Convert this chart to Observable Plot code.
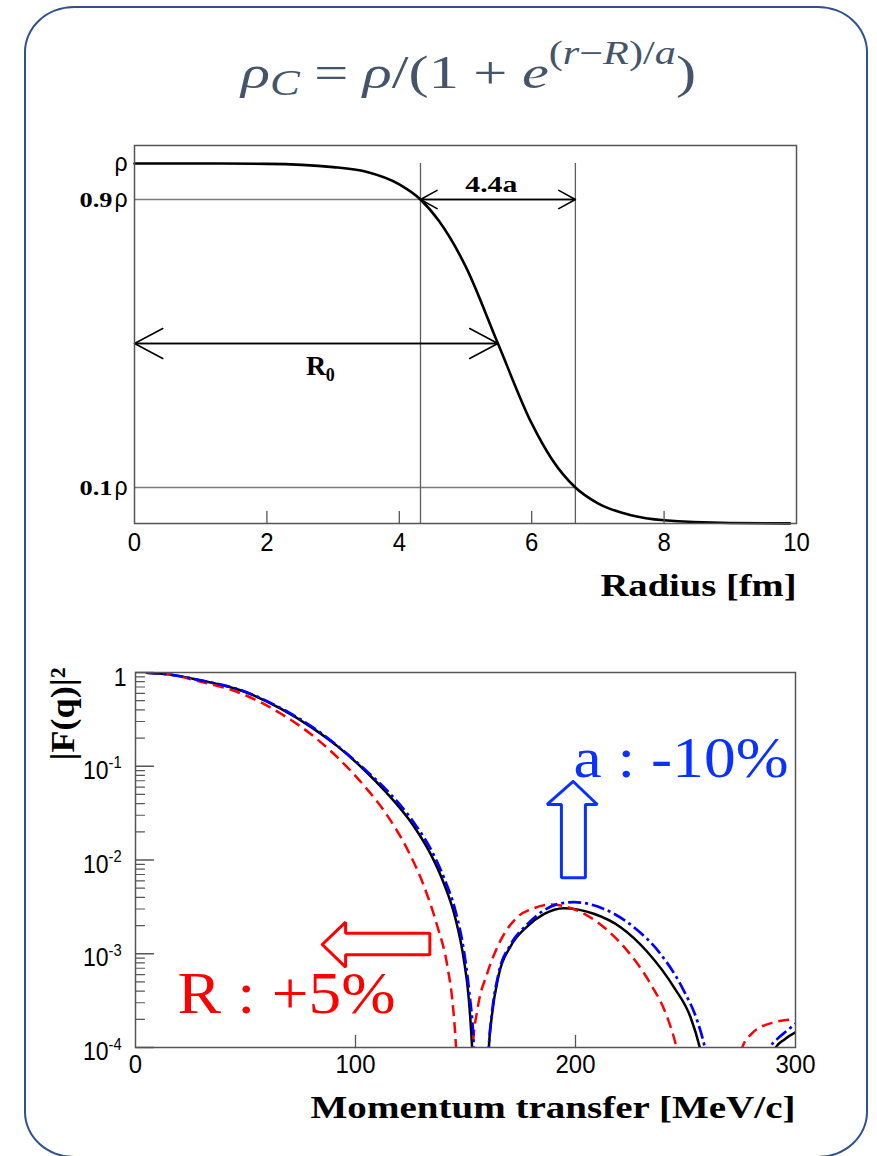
<!DOCTYPE html>
<html>
<head>
<meta charset="utf-8">
<script src="https://cdn.jsdelivr.net/npm/d3@7"></script>
<script src="https://cdn.jsdelivr.net/npm/@observablehq/plot@0.6"></script>
<style>
  html, body { margin: 0; padding: 0; background: #fff; }
  #page { position: relative; width: 877px; height: 1156px; overflow: hidden; background: #fff; }
  #card { position: absolute; left: 24px; top: 6px; width: 844px; height: 1152px; box-sizing: border-box;
          border: 2px solid #2f528f; border-radius: 50px / 46px; }
  #title { position: absolute; left: 241px; top: 20px; white-space: nowrap; color: #44546a;
           font-family: "Liberation Serif", "Times New Roman", serif; font-size: 47px; line-height: 1;
           transform-origin: 0 0; }
  #title i { font-style: italic; }
  #title .sup { position: relative; top: -0.73em; font-size: 0.7em; }
  #title .sub { position: relative; top: 0.2em; font-size: 0.74em; }
  #title .op { margin: 0 0.24em; }
  #title .bl { display: inline-block; width: 0; height: 0; }
  .panel { position: absolute; left: 0; }
  #topPanel { top: 130px; }
  #bottomPanel { top: 640px; }
</style>
</head>
<body>
<div id="page">
  <div id="card"></div>
  <div id="title"><i>ρ</i><span class="sub"><i>C</i></span><span class="op">=</span><i>ρ</i>/(1<span class="op">+</span><i>e</i><span class="sup">(<i>r</i>−<i>R</i>)/<i>a</i></span>)<span class="bl" id="bl"></span></div>
  <div id="topPanel" class="panel"></div>
  <div id="bottomPanel" class="panel"></div>
</div>
<script>
const SERIF = '"Liberation Serif", "Times New Roman", Times, serif';
const SANS = '"Liberation Sans", Arial, Helvetica, sans-serif';

// ---------------- top panel: charge density vs radius ----------------
const radius  = [0, 1, 2, 3, 3.5, 4, 4.32, 4.6, 5, 5.49, 6, 6.3, 6.66, 7, 7.5, 8, 9, 9.9];
const density = [1.0, 1.0, 0.999, 0.99, 0.977, 0.942, 0.90, 0.84, 0.715, 0.50, 0.278, 0.18, 0.10, 0.056, 0.023, 0.009, 0.0014, 0.0003];
const radiusTickValues = [0, 2, 4, 6, 8, 10];
const radiusInnerTicks = [2, 4, 6, 8];
const levelValues = [0.9, 0.1];          // 0.9ρ and 0.1ρ guide levels
const levelEnds = [4.32, 6.66];          // radius where each guide meets the curve
const guideRadii = [4.32, 6.66];         // vertical guides
const rhoLabelValues = [1, 0.9, 0.1];
const rhoNumberValues = [0.9, 0.1];
const rhoNumberLabels = ["0.9", "0.1"];
const spanArrowFrom = [4.32, 6.66];      // 4.4a double arrow (drawn both ways)
const spanArrowTo = [6.66, 4.32];
const spanLevel = 0.9;
const spanLabel = ["4.4a"];
const spanLabelAt = 5.39;
const radiusArrowFrom = [0, 5.49];       // R0 double arrow
const radiusArrowTo = [5.49, 0];
const radiusLevel = 0.5;
const radiusLabelAt = 2.59;
const radiusSubAt = 2.89;

// ---------------- bottom panel: form factor vs momentum transfer ----------------
const qBlack = [5, 15, 28, 49, 66, 80, 92, 104, 114, 126.5, 134, 140, 145.5, 149.2, 151.5, 153, 157, 160.6, 162, 165, 170.5, 178, 185.6, 194.7, 208.3, 220.5, 232.6, 244.7, 252.3, 256.5, 273.7, 291, 295, 300];
const fBlack = [0.995, 0.955, 0.84, 0.631, 0.412, 0.26, 0.162, 0.0912, 0.0525, 0.0229, 0.01175, 0.00575, 0.00234, 0.00088, 0.00033, 0.0001, 1e-7, 0.0001, 0.00022, 0.00058, 0.0012, 0.00195, 0.00265, 0.00306, 0.00267, 0.00192, 0.00105, 0.00044, 0.00021, 0.0001, 1e-7, 0.0001, 0.000122, 0.000145];

const qRed = [5, 15, 28, 49, 66, 79.5, 91.7, 103.8, 114.4, 123.5, 131, 137.1, 141.7, 144.4, 145.7, 149.5, 153.3, 155.5, 159.8, 165.9, 173.5, 181, 188.6, 200.8, 212.9, 223.5, 234.1, 241.7, 245.9, 261, 275.8, 280, 284.1, 290, 295, 300];
const fRed = [0.995, 0.955, 0.815, 0.585, 0.365, 0.222, 0.125, 0.0624, 0.0299, 0.0131, 0.00535, 0.0020, 0.00075, 0.000259, 0.0001, 1e-7, 0.0001, 0.00026, 0.00061, 0.00138, 0.00245, 0.00305, 0.00335, 0.00289, 0.00192, 0.00108, 0.000478, 0.00021, 0.0001, 1e-7, 0.0001, 0.00014, 0.000165, 0.000185, 0.000195, 0.0002];

const qBlue = [5, 15, 28, 49, 66, 80.3, 91.7, 103.8, 114.4, 126.5, 134.1, 140.2, 145.5, 149.2, 151.5, 153.8, 157.3, 160.6, 162, 165, 170.5, 178, 185.6, 192, 199.2, 212.9, 226.5, 238.6, 249.2, 255.3, 258.8, 273.7, 288.6, 292, 296, 300];
const fBlue = [0.995, 0.955, 0.84, 0.634, 0.417, 0.263, 0.166, 0.0944, 0.055, 0.0251, 0.0132, 0.00646, 0.00282, 0.0011, 0.00043, 0.0001, 1e-7, 0.0001, 0.00023, 0.00061, 0.00125, 0.00205, 0.0029, 0.0034, 0.00355, 0.00301, 0.00192, 0.0010, 0.000405, 0.000194, 0.0001, 1e-7, 0.0001, 0.000125, 0.00015, 0.00018];

const qTickValues = [0, 100, 200, 300];
const qInnerTicks = [100, 200];
const fUnitTick = [1];
const fDecadeTicks = [0.1, 0.01, 0.001, 0.0001];
const fDecadeExponents = ["-1", "-2", "-3", "-4"];

// block-arrow annotations (outline polygons in data space)
const redArrowQ = [84.9, 95.5, 95.5, 133.8, 133.8, 95.5, 95.5, 84.9];
const redArrowF = [1.255e-3, 2.17e-3, 1.656e-3, 1.656e-3, 9.74e-4, 9.74e-4, 7.19e-4, 1.255e-3];
const blueArrowQ = [198.95, 209.9, 204.5, 204.5, 193.6, 193.6, 187.1, 198.95];
const blueArrowF = [0.0688, 0.0391, 0.0391, 6.46e-3, 6.46e-3, 0.0391, 0.0391, 0.0688];
const redNote = ["R : +5%"];
const redNoteQ = 19.1, redNoteF = 2.31e-4;
const blueNote = ["a : -10%"];
const blueNoteQ = 199.1, blueNoteF = 0.0759;

// inward tick shape for Plot.vector
const tickShape = {draw(context, l) { context.moveTo(0, 0); context.lineTo(0, -l); }};

const FRAME = "#555";

const topPlot = Plot.plot({
  width: 877, height: 480,
  marginLeft: 134, marginRight: 81, marginTop: 15, marginBottom: 87,
  x: {domain: [0, 10], axis: null},
  y: {domain: [0, 1.05], axis: null},
  style: {background: "transparent", overflow: "visible"},
  marks: [
    Plot.ruleY(levelValues, {y: d => d, x1: 0, x2: (d, i) => levelEnds[i], stroke: "#7a7a7a", strokeWidth: 1.4}),
    Plot.ruleX(guideRadii, {x: d => d, y1: 0, y2: 1, stroke: "#5e5e5e", strokeWidth: 1.3}),
    Plot.line(radius, {x: d => d, y: (d, i) => density[i], curve: "monotone-x", stroke: "#000", strokeWidth: 2.6}),
    Plot.arrow(spanArrowFrom, {x1: d => d, x2: (d, i) => spanArrowTo[i], y1: spanLevel, y2: spanLevel,
      headAngle: 58, headLength: 19, stroke: "#000", strokeWidth: 1.5}),
    Plot.arrow(radiusArrowFrom, {x1: d => d, x2: (d, i) => radiusArrowTo[i], y1: radiusLevel, y2: radiusLevel,
      headAngle: 56, headLength: 32, stroke: "#000", strokeWidth: 1.5}),
    Plot.frame({stroke: FRAME, strokeWidth: 1.5}),
    Plot.vector(radiusInnerTicks, {x: d => d, y: 0, length: 12, rotate: 0, anchor: "start", shape: tickShape,
      stroke: FRAME, strokeWidth: 1.3}),
    Plot.text(radiusTickValues, {x: d => d, y: 0, text: d => String(d), dy: 27, lineAnchor: "bottom",
      fontFamily: SANS, fontSize: 26, fill: "#000"}),
    Plot.text(rhoLabelValues, {x: 0, y: d => d, text: () => "ρ", textAnchor: "end", dx: -7, dy: 7,
      lineAnchor: "bottom", fontFamily: SANS, fontSize: 25, fill: "#000"}),
    Plot.text(rhoNumberValues, {x: 0, y: d => d, text: (d, i) => rhoNumberLabels[i], textAnchor: "end", dx: -22, dy: 7,
      lineAnchor: "bottom", fontFamily: SERIF, fontWeight: "bold", fontSize: 22, fill: "#000"}),
    Plot.text(spanLabel, {x: spanLabelAt, y: spanLevel, text: d => d, dy: -8, lineAnchor: "bottom",
      fontFamily: SERIF, fontWeight: "bold", fontSize: 24, fill: "#000"}),
    Plot.text(["R"], {x: radiusLabelAt, y: radiusLevel, text: d => d, textAnchor: "start", dy: 31, lineAnchor: "bottom",
      fontFamily: SERIF, fontWeight: "bold", fontSize: 28, fill: "#000"}),
    Plot.text(["0"], {x: radiusSubAt, y: radiusLevel, text: d => d, textAnchor: "start", dy: 37, lineAnchor: "bottom",
      fontFamily: SERIF, fontWeight: "bold", fontSize: 18, fill: "#000"}),
    Plot.text(["Radius [fm]"], {x: 10, y: 0, text: d => d, textAnchor: "end", dy: 72, lineAnchor: "bottom",
      fontFamily: SERIF, fontWeight: "bold", fontSize: 32, fill: "#000"})
  ]
});

const bottomPlot = Plot.plot({
  width: 877, height: 480,
  marginLeft: 135, marginRight: 82, marginTop: 32, marginBottom: 73,
  x: {domain: [0, 300], axis: null},
  y: {type: "log", domain: [1e-4, 1], axis: null},
  style: {background: "transparent", overflow: "visible"},
  marks: [
    Plot.line(qBlack, {x: d => d, y: (d, i) => fBlack[i], curve: "monotone-x", clip: true,
      stroke: "#000", strokeWidth: 2.5}),
    Plot.line(qRed, {x: d => d, y: (d, i) => fRed[i], curve: "monotone-x", clip: true,
      stroke: "#ff0000", strokeWidth: 2.5, strokeDasharray: "11,6", strokeLinecap: "butt"}),
    Plot.line(qBlue, {x: d => d, y: (d, i) => fBlue[i], curve: "monotone-x", clip: true,
      stroke: "#0000ff", strokeWidth: 2.7, strokeDasharray: "13,4,3,4", strokeLinecap: "butt"}),
    Plot.line(redArrowQ, {x: d => d, y: (d, i) => redArrowF[i], curve: "linear",
      stroke: "#ff0000", strokeWidth: 3, strokeLinejoin: "miter"}),
    Plot.line(blueArrowQ, {x: d => d, y: (d, i) => blueArrowF[i], curve: "linear",
      stroke: "#0a32ff", strokeWidth: 3, strokeLinejoin: "miter"}),
    Plot.frame({stroke: FRAME, strokeWidth: 1.5}),
    Plot.vector(qInnerTicks, {x: d => d, y: 1e-4, length: 12, rotate: 0, anchor: "start", shape: tickShape,
      stroke: FRAME, strokeWidth: 1.3}),
    Plot.vector(d3.scaleLog().domain([1e-4, 1]).ticks().filter(v => !fDecadeTicks.includes(v) && v !== 1),
      {x: 0, y: d => d, length: 9, rotate: 90, anchor: "start", shape: tickShape, stroke: FRAME, strokeWidth: 1.2}),
    Plot.vector(fUnitTick.concat(fDecadeTicks), {x: 0, y: d => d, length: 18, rotate: 90, anchor: "start",
      shape: tickShape, stroke: FRAME, strokeWidth: 1.3}),
    Plot.text(qTickValues, {x: d => d, y: 1e-4, text: d => String(d), dy: 25, lineAnchor: "bottom",
      fontFamily: SANS, fontSize: 26, fill: "#000"}),
    Plot.text(fUnitTick, {x: 0, y: d => d, text: () => "1", textAnchor: "end", dx: -9, dy: 13, lineAnchor: "bottom",
      fontFamily: SANS, fontSize: 25, fill: "#000"}),
    Plot.text(fDecadeTicks, {x: 0, y: d => d, text: () => "10", textAnchor: "end", dx: -27, dy: 12.6, lineAnchor: "bottom",
      fontFamily: SANS, fontSize: 25, fill: "#000"}),
    Plot.text(fDecadeTicks, {x: 0, y: d => d, text: (d, i) => fDecadeExponents[i], textAnchor: "start", dx: -27, dy: 2,
      lineAnchor: "bottom", fontFamily: SANS, fontSize: 16, fill: "#000"}),
    Plot.text(["|F(q)|²"], {frameAnchor: "top-left", text: d => d, dx: -62, dy: 41.5, rotate: -90,
      textAnchor: "middle", lineAnchor: "bottom", fontFamily: SERIF, fontWeight: "bold", fontSize: 33, fill: "#000"}),
    Plot.text(["Momentum transfer [MeV/c]"], {x: 300, y: 1e-4, text: d => d, textAnchor: "end", dy: 70,
      lineAnchor: "bottom", fontFamily: SERIF, fontWeight: "bold", fontSize: 32, fill: "#000"}),
    Plot.text(redNote, {x: redNoteQ, y: redNoteF, text: d => d, textAnchor: "start", lineAnchor: "bottom",
      fontFamily: SERIF, fontSize: 60, fill: "#ff0000"}),
    Plot.text(blueNote, {x: blueNoteQ, y: blueNoteF, text: d => d, textAnchor: "start", lineAnchor: "bottom",
      fontFamily: SERIF, fontSize: 58, fill: "#0a32ff"})
  ]
});

document.getElementById("topPanel").appendChild(topPlot);
document.getElementById("bottomPanel").appendChild(bottomPlot);

// the source figure is horizontally distorted: fit labels to their measured widths
function fitText(svg, str, width) {
  svg.querySelectorAll("text").forEach(t => {
    if (t.textContent === str) {
      t.setAttribute("textLength", width);
      t.setAttribute("lengthAdjust", "spacingAndGlyphs");
    }
  });
}
function condenseSans(svg, factor) {
  svg.querySelectorAll('g[font-family*="Liberation Sans"] text').forEach(t => {
    const w = t.getComputedTextLength();
    if (w > 0) {
      t.setAttribute("textLength", (w * factor).toFixed(2));
      t.setAttribute("lengthAdjust", "spacingAndGlyphs");
    }
  });
}
condenseSans(topPlot, 0.92);
condenseSans(bottomPlot, 0.92);
fitText(topPlot, "Radius [fm]", 196);
fitText(topPlot, "4.4a", 52);
fitText(topPlot, "0.9", 33);
fitText(topPlot, "0.1", 33);
fitText(bottomPlot, "Momentum transfer [MeV/c]", 485);
fitText(bottomPlot, "R : +5%", 218);
fitText(bottomPlot, "a : -10%", 215);
fitText(bottomPlot, "|F(q)|²", 93);

function fitTitle() {
  const t = document.getElementById("title");
  t.style.transform = "none";
  t.style.top = "0px";
  const tr = t.getBoundingClientRect();
  const br = document.getElementById("bl").getBoundingClientRect();
  const pr = document.getElementById("page").getBoundingClientRect();
  const base = br.top - tr.top;
  t.style.top = (88 - base - (tr.top - pr.top)) + "px";
  t.style.transform = `scaleX(${455 / tr.width})`;
}
fitTitle();
if (document.fonts && document.fonts.ready) document.fonts.ready.then(fitTitle);
</script>
</body>
</html>
